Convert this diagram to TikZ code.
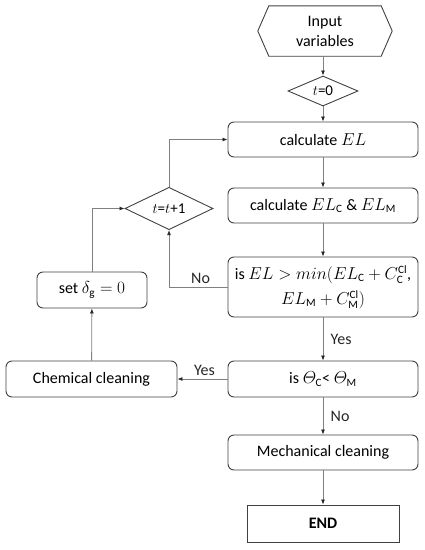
\documentclass[tikz,border=0pt]{standalone}
\usepackage{amsmath}
\usepackage{fontspec}
\setmainfont{Carlito}
\usetikzlibrary{shapes.geometric,arrows.meta}
\begin{document}
\begin{tikzpicture}[x=1pt,y=-1pt,
  font=\fontsize{16}{20}\selectfont,
  box/.style={draw=black!75, line width=0.9pt, rounded corners=6pt, minimum width=190pt, minimum height=35pt, align=center, inner sep=2pt},
  dia/.style={draw=black!75, line width=0.9pt, diamond, inner sep=0pt, font=\fontsize{15}{18}\selectfont},
  conn/.style={draw=black!50, line width=0.8pt, -{Latex[length=5pt,width=4pt,color=black!85]}},
  lbl/.style={font=\fontsize{16}{19}\selectfont, text=black!85}]
\useasboundingbox (0,0) rectangle (424,550);
% nodes
\node[minimum width=134pt, minimum height=50pt, align=center, inner sep=0pt] (inp) at (325,31) {Input\\variables};
\draw[draw=black!75, line width=0.9pt] (inp.west) -- ([xshift=11pt]inp.north west) -- ([xshift=-11pt]inp.north east) -- (inp.east) -- ([xshift=-11pt]inp.south east) -- ([xshift=11pt]inp.south west) -- cycle;
\node[dia, minimum width=70pt, minimum height=22pt] (t0) at (323,91) {$t$=0};
\node[box] (calc) at (323,139.5) {calculate $EL$};
\node[box] (calc2) at (323,205.5) {calculate $EL_{\mathrm{C}}$ \& $EL_{\mathrm{M}}$};
\node[box, minimum height=60pt] (isel) at (323,287) {is $EL > min(EL_{\mathrm{C}} + C_{\mathrm{C}}^{\mathrm{Cl}}$,\\[5pt] $EL_{\mathrm{M}} + C_{\mathrm{M}}^{\mathrm{Cl}})$};
\node[box, minimum height=36pt] (isth) at (323,379) {is $\varTheta_{\mathrm{C}}$< $\varTheta_{\mathrm{M}}$};
\node[box] (mech) at (323,452.5) {Mechanical cleaning};
\node[draw=black!75, line width=0.9pt, minimum width=152pt, minimum height=37pt, font=\fontsize{16}{20}\selectfont\bfseries] (end) at (323,523.5) {END};
\node[box, minimum width=171pt, minimum height=36pt] (chem) at (91.5,379) {Chemical cleaning};
\node[box, minimum width=110pt, minimum height=36pt] (setd) at (92,290) {set $\delta_{\mathrm{g}} = 0$};
\node[dia, minimum width=88pt, minimum height=37pt] (tt) at (169,208.5) {$t$=$t$+1};
% connectors
\draw[conn] (t0.north |- inp.south) -- (t0.north);
\draw[conn] (t0) -- (calc);
\draw[conn] (calc) -- (calc2);
\draw[conn] (calc2) -- (isel);
\draw[conn] (isel) -- node[lbl, right, xshift=4pt]{Yes} (isth);
\draw[conn] (isth) -- node[lbl, right, xshift=4pt]{No} (mech);
\draw[conn] (mech) -- (end);
\draw[conn] (isth) -- node[lbl, above, xshift=2pt]{Yes} (chem);
\draw[conn] (chem) -- (setd);
\draw[conn] (setd.north) |- (tt.west);
\draw[conn] (tt.north) |- (calc.west);
\draw[conn] (isel.west) -| node[lbl, above, pos=0.23]{No} (tt.south);
\end{tikzpicture}
\end{document}
